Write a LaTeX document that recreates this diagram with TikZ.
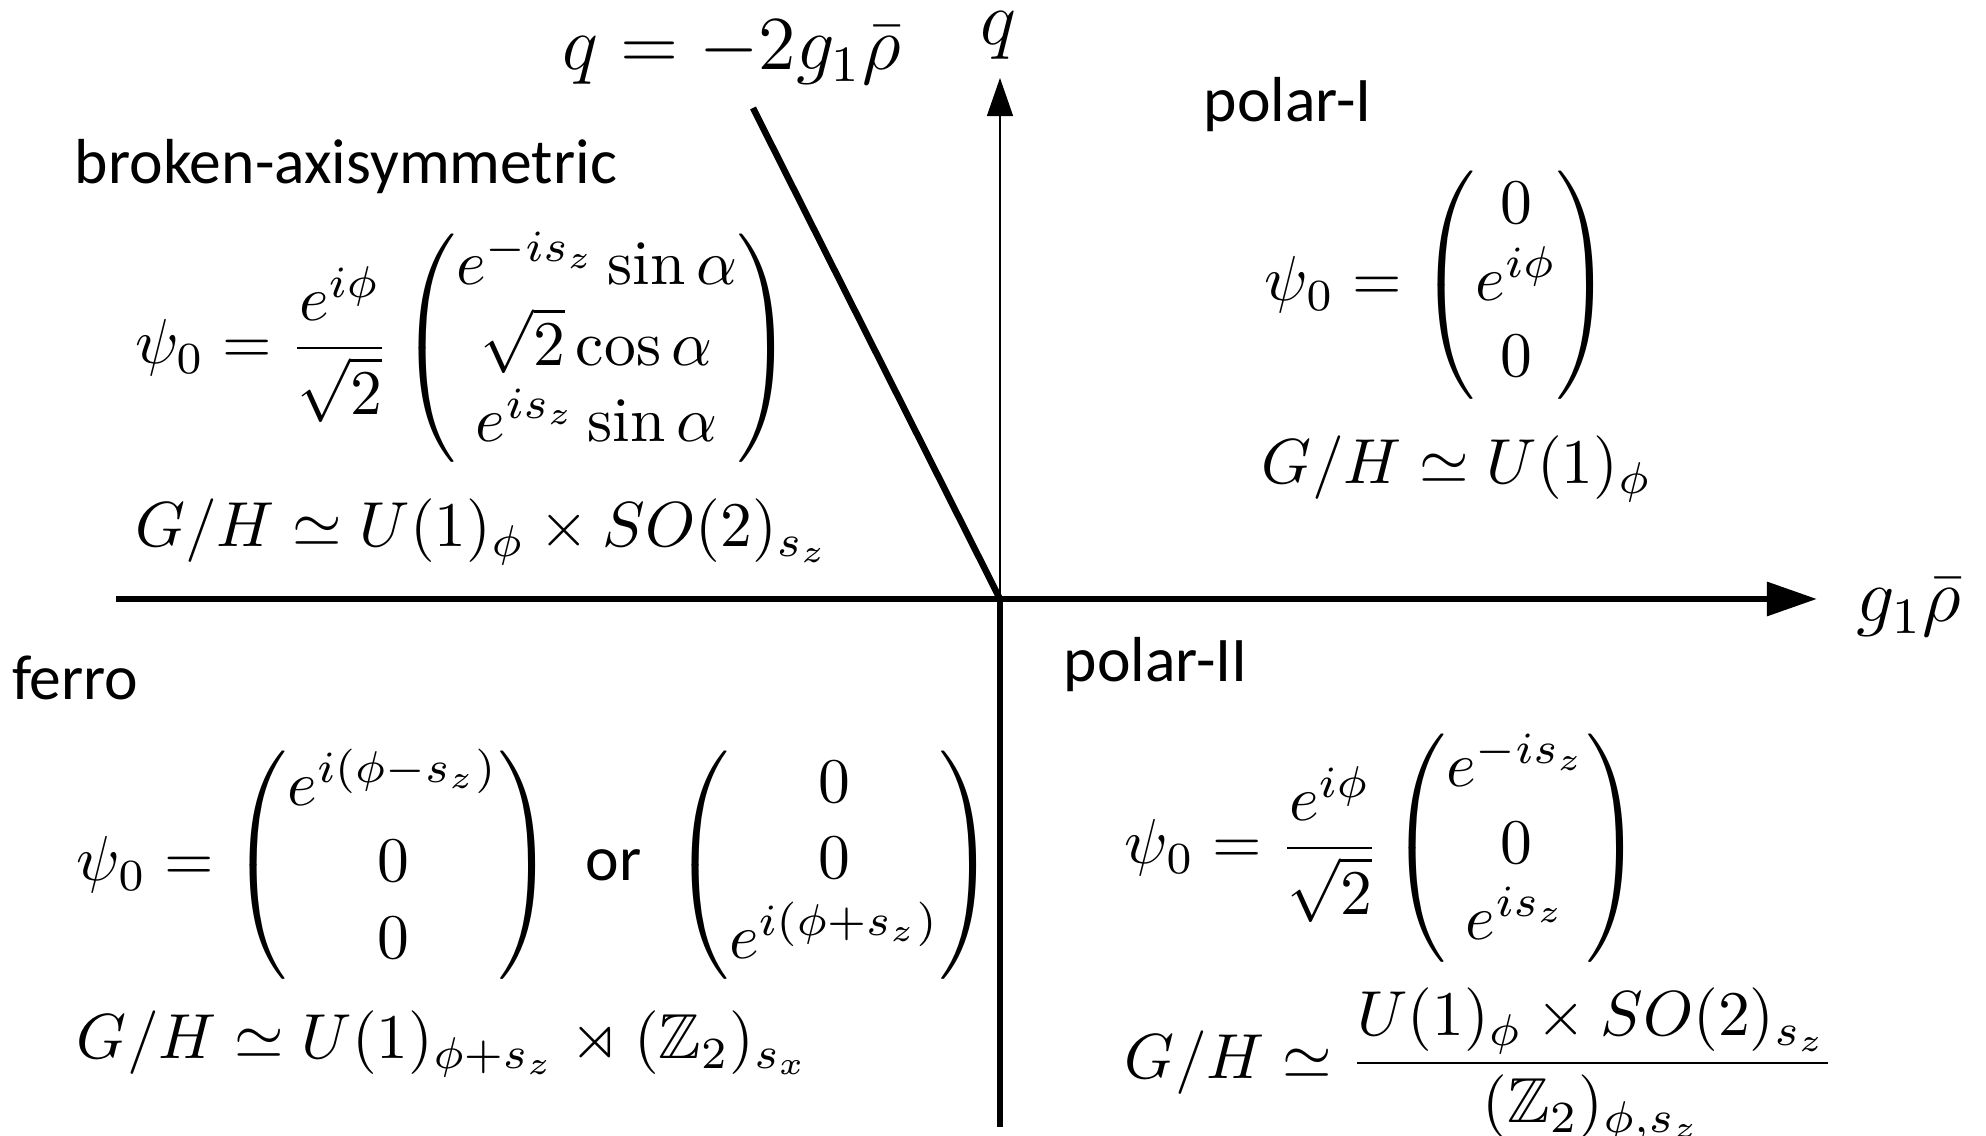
\documentclass[tikz,border=0pt]{standalone}
\usepackage{amsmath,amssymb}
\usepackage{fontspec}
\newfontfamily\labelfont{Carlito}
\usetikzlibrary{arrows.meta}
\begin{document}
\begin{tikzpicture}[x=0.157233pt,y=-0.157233pt,
  every node/.style={inner sep=0pt, outer sep=0pt},
  phase/.style={font=\labelfont\fontsize{10}{12}\selectfont, anchor=base west},
  eqn/.style={anchor=west},
  ghlab/.style={anchor=base west},
  axlabel/.style={font=\large},
  thickline/.style={line width=1.02pt},
  thinline/.style={line width=0.24pt}]
\fill[white] (0,0) rectangle (1986,1136);
\useasboundingbox (0,0) rectangle (1986,1136);
\clip (0,0) rectangle (1986,1136);

% axes
\coordinate (O) at (1000,599);
\coordinate (xl) at (116,599);
\coordinate (xr) at (1817,599);
\coordinate (qtop) at (1000,78);
\coordinate (bot) at (1000,1127);
\coordinate (dtop) at (753,108);

\draw[thickline,-{Triangle[length=7.9pt,width=5.2pt]}] (xl) -- (xr);
\draw[thinline,-{Triangle[length=6pt,width=4.1pt]}] (O) -- (qtop);
\draw[thickline] (O) -- (bot);
\draw[thickline] (O) -- (dtop);

% axis labels
\node[axlabel,anchor=base] (qlab) at (998,45) {$q$};
\node[axlabel,anchor=base west] (linelab) at (563,70) {$q=-2g_1\bar\rho$};
\node[axlabel,anchor=base west] (glab) at (1857,622) {$g_1\bar\rho$};

% polar-I
\node[phase] (p1) at (1204,122) {polar-I};
\node[eqn] (p1eq) at (1265,285) {$\displaystyle \psi_0=\begin{pmatrix}0\\ e^{i\phi}\\ 0\end{pmatrix}$};
\node[ghlab] (p1gh) at (1262,484) {$G/H\simeq U(1)_\phi$};

% broken-axisymmetric
\node[phase] (ba) at (75,184) {broken-axisymmetric};
\node[eqn] (baeq) at (135,348) {$\displaystyle \psi_0=\frac{e^{i\phi}}{\sqrt2}\begin{pmatrix}e^{-is_z}\sin\alpha\\ \sqrt2\cos\alpha\\ e^{is_z}\sin\alpha\end{pmatrix}$};
\node[ghlab] (bagh) at (135,547) {$G/H\simeq U(1)_\phi\times SO(2)_{s_z}$};

% ferro
\node[phase] (fe) at (12,700) {ferro};
\node[eqn] (feeq) at (77,865) {$\displaystyle \psi_0=\begin{pmatrix}e^{i(\phi-s_z)}\\ 0\\ 0\end{pmatrix}\ \text{\labelfont or}\ \begin{pmatrix}0\\ 0\\ e^{i(\phi+s_z)}\end{pmatrix}$};
\node[ghlab] (fegh) at (77,1059) {$G/H\simeq U(1)_{\phi+s_z}\rtimes(\mathbb{Z}_2)_{s_x}$};

% polar-II
\node[phase] (p2) at (1064,682) {polar-II};
\node[eqn] (p2eq) at (1125,848) {$\displaystyle \psi_0=\frac{e^{i\phi}}{\sqrt2}\begin{pmatrix}e^{-is_z}\\ 0\\ e^{is_z}\end{pmatrix}$};
\node[ghlab] (p2gh) at (1125,1079) {$\displaystyle G/H\simeq\frac{U(1)_\phi\times SO(2)_{s_z}}{(\mathbb{Z}_2)_{\phi,s_z}}$};
\end{tikzpicture}
\end{document}
